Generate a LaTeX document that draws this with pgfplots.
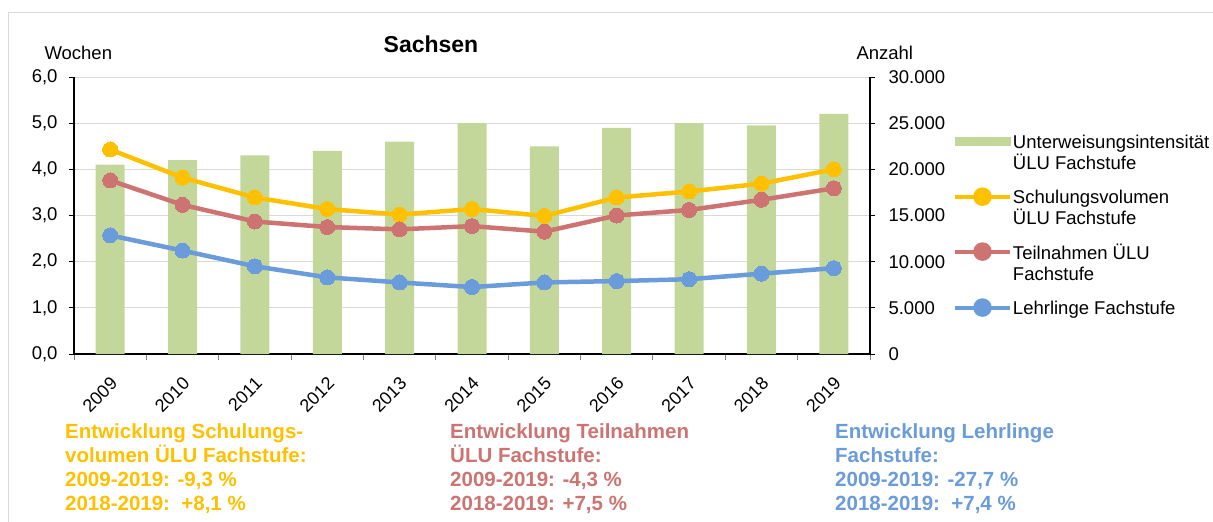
\documentclass[border=0pt]{standalone}
\usepackage{pgfplots}
\pgfplotsset{compat=1.18}
\usepackage{fontspec}
\setmainfont{Liberation Sans}
\definecolor{barg}{HTML}{C4D79B}
\definecolor{cyel}{HTML}{FFC000}
\definecolor{cred}{HTML}{CD7371}
\definecolor{cblu}{HTML}{6A9BDB}
\definecolor{grd}{HTML}{D9D9D9}
\begin{document}
\begin{tikzpicture}[x=1pt,y=1pt]
\path[use as bounding box] (0,0) rectangle (1213,-522);
\draw[gray!30, line width=1pt] (8,-12) -- (1230,-12);
\draw[gray!30, line width=1pt] (8,-12) -- (8,-540);
\begin{axis}[
  at={(74pt,-354pt)}, anchor=south west,
  scale only axis, width=796pt, height=277pt,
  xmin=-0.5, xmax=10.5, ymin=0, ymax=6,
  axis x line*=bottom, axis y line*=left,
  axis line style={black, line width=1.4pt},
  xtick={0,...,10},
  xticklabels={2009,2010,2011,2012,2013,2014,2015,2016,2017,2018,2019},
  major x tick style={draw=none},
  minor xtick={-0.5,0.5,...,10.5},
  minor x tick style={gray, line width=1pt},
  minor tick length=6pt,
  xtick align=outside,
  x tick label style={rotate=45, anchor=north east, font=\fontsize{18}{21}\selectfont, xshift=-9pt, yshift=-8pt},
  ytick={0,1,...,6},
  ytick align=outside, major tick length=5pt,
  y tick style={black, line width=1pt},
  y tick label style={font=\fontsize{18.5}{21}\selectfont, xshift=-8pt},
  /pgf/number format/assume math mode=true,
  yticklabel={\pgfmathprintnumber[fixed, fixed zerofill, precision=1, use comma]{\tick}},
  ymajorgrids, grid style={grd, line width=1pt},
  clip=false,
]
\addplot[ybar, bar width=29pt, fill=barg, draw=none, bar shift=0pt] coordinates {
(0,4.1) (1,4.2) (2,4.3) (3,4.4) (4,4.6) (5,5.0) (6,4.5) (7,4.9) (8,5.0) (9,4.95) (10,5.2)};
\end{axis}
\begin{axis}[
  at={(74pt,-354pt)}, anchor=south west,
  scale only axis, width=796pt, height=277pt,
  xmin=-0.5, xmax=10.5, ymin=0, ymax=30000,
  axis x line=none, axis y line*=right,
  axis line style={black, line width=2.6pt},
  ytick={0,5000,...,30000},
  scaled y ticks=false,
  ytick align=outside, major tick length=5pt,
  y tick style={black, line width=1pt},
  y tick label style={font=\fontsize{18.5}{21}\selectfont, anchor=west, xshift=10pt},
  /pgf/number format/assume math mode=true,
  yticklabel={\pgfmathprintnumber[fixed, precision=0, 1000 sep={.}]{\tick}},
  clip=false,
  legend cell align=left,
  legend style={at={(1.104,0.795)}, anchor=north west, draw=none, fill=none, inner sep=0pt,
    row sep=17pt,
    nodes={align=left, font=\fontsize{18.5}{21}\selectfont, inner sep=1pt, text depth=0pt}},
]
\addlegendimage{area legend, legend image code/.code={\fill[barg] (0pt,6.5pt) rectangle (55pt,14.5pt);}}
\addlegendentry{Unterweisungsintensität\\ÜLU Fachstufe}
\addplot[cyel, line width=4.5pt, mark=*, mark size=7.5pt, mark options={fill=cyel, draw=cyel, line width=0pt},
  legend image code/.code={\draw[cyel, line width=4pt] (0pt,10.5pt) -- (55pt,10.5pt); \fill[cyel] (27.5pt,10.5pt) circle (7pt);}] coordinates {
(0,22150) (1,19100) (2,16950) (3,15700) (4,15100) (5,15700) (6,14950) (7,16950) (8,17600) (9,18450) (10,20000)};
\addlegendentry{Schulungsvolumen\\ÜLU Fachstufe}
\addplot[cred, line width=4.5pt, mark=*, mark size=7.5pt, mark options={fill=cred, draw=cred, line width=0pt},
  legend image code/.code={\draw[cred, line width=4pt] (0pt,10.5pt) -- (55pt,10.5pt); \fill[cred] (27.5pt,10.5pt) circle (7pt);}] coordinates {
(0,18800) (1,16150) (2,14350) (3,13750) (4,13500) (5,13850) (6,13250) (7,15000) (8,15600) (9,16700) (10,17950)};
\addlegendentry{Teilnahmen ÜLU\\Fachstufe}
\addplot[cblu, line width=4.5pt, mark=*, mark size=7.5pt, mark options={fill=cblu, draw=cblu, line width=0pt},
  legend image code/.code={\draw[cblu, line width=4pt] (0pt,0pt) -- (55pt,0pt); \fill[cblu] (27.5pt,0pt) circle (7pt);}] coordinates {
(0,12850) (1,11200) (2,9500) (3,8300) (4,7750) (5,7250) (6,7750) (7,7900) (8,8100) (9,8700) (10,9300)};
\addlegendentry{Lehrlinge Fachstufe}
\end{axis}
\node[font=\fontsize{23}{26}\selectfont\bfseries] at (431,-44) {Sachsen};
\node[font=\fontsize{18.5}{21}\selectfont, anchor=base west] at (41,-59) {Wochen};
\node[font=\fontsize{18.5}{21}\selectfont, anchor=base west] at (853,-59) {Anzahl};
\begin{scope}[every node/.style={font=\fontsize{20.5}{24}\selectfont\bfseries, anchor=north west, align=left, inner sep=0pt}]
\node[text=cyel] at (65,-423) {Entwicklung Schulungs-\\volumen ÜLU Fachstufe:\\2009-2019: -9,3 \%\\2018-2019:\ \ +8,1 \%};
\node[text=cred] at (450,-423) {Entwicklung Teilnahmen\\ÜLU Fachstufe:\\2009-2019: -4,3 \%\\2018-2019: +7,5 \%};
\node[text=cblu] at (835,-423) {Entwicklung Lehrlinge\\Fachstufe:\\2009-2019: -27,7 \%\\2018-2019:\ \ +7,4 \%};
\end{scope}
\end{tikzpicture}
\end{document}
